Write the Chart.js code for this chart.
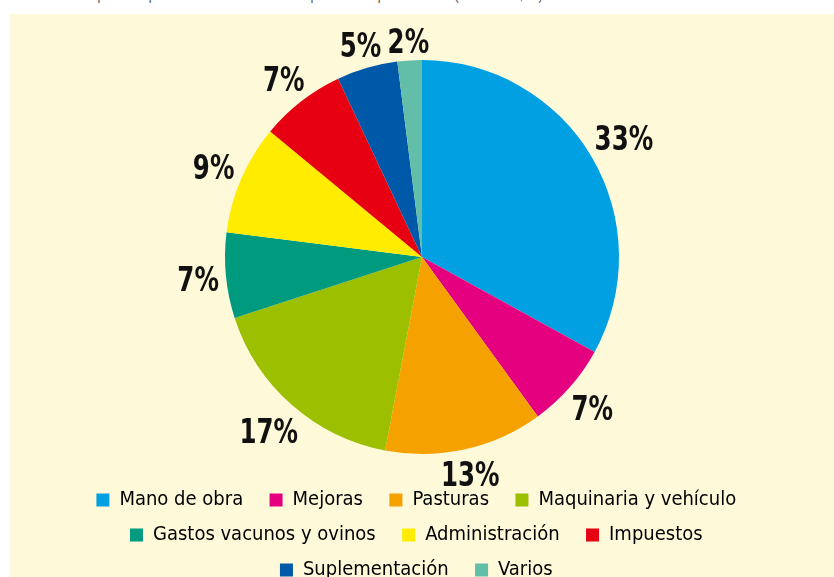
<!DOCTYPE html>
<html>
<head>
<meta charset="utf-8">
<script src="https://cdn.jsdelivr.net/npm/chart.js@4.4.1/dist/chart.umd.min.js"></script>
<style>
  html, body { margin: 0; padding: 0; background: #ffffff; overflow: hidden; width: 834px; height: 577px; }
  #title { position: absolute; left: 10px; top: -11px; font: 13px 'Liberation Sans', Arial, sans-serif; color: #555; white-space: nowrap; line-height: 13px; }
  #panel { position: absolute; left: 10px; top: 14px; width: 824px; height: 576px; background: #fef9d9; }
  #chart-wrap { position: relative; width: 824px; height: 576px; }
</style>
</head>
<body>
<div id="title">Gráfico 3. Composición porcentual de los costos de producción por hectárea (en dólares, %)</div>
<div id="panel">
  <div id="chart-wrap"><canvas id="cost-chart"></canvas></div>
</div>
<script>
// Chart data
const categories = ['Mano de obra', 'Mejoras', 'Pasturas', 'Maquinaria y vehículo',
    'Gastos vacunos y ovinos', 'Administración', 'Impuestos', 'Suplementación', 'Varios'];
const shares = [33, 7, 13, 17, 7, 9, 7, 5, 2];
const sliceColors = ['#00a0e3', '#e4007f', '#f5a100', '#9cbf00', '#009a7f',
    '#ffec00', '#e60012', '#0058a9', '#62bea8'];

const narrowFont = "'Liberation Sans Narrow', 'DejaVu Sans Condensed', Arial, sans-serif";

// Percent labels outside the slices (text squeezed to look condensed)
const outsideLabels = {
    id: 'outsideLabels',
    afterDatasetsDraw(chart) {
        const ctx = chart.ctx;
        const meta = chart.getDatasetMeta(0);
        const squeeze = 0.8;
        const halfH = 12.5;
        ctx.save();
        ctx.font = 'bold 34px ' + narrowFont;
        ctx.fillStyle = '#111111';
        ctx.textAlign = 'center';
        ctx.textBaseline = 'alphabetic';
        meta.data.forEach((arc, i) => {
            const p = arc.getProps(['x', 'y', 'startAngle', 'endAngle', 'outerRadius'], true);
            const text = shares[i] + '%';
            const halfW = ctx.measureText(text).width * squeeze / 2;
            const mid = (p.startAngle + p.endAngle) / 2;
            const c = Math.cos(mid), s = Math.sin(mid);
            const r = p.outerRadius + 6 + Math.abs(c) * halfW + Math.abs(s) * halfH;
            const lx = p.x + c * r;
            const ly = p.y + s * r;
            ctx.save();
            ctx.translate(lx, ly + halfH);
            ctx.scale(squeeze, 1);
            ctx.fillText(text, 0, 0);
            ctx.restore();
        });
        ctx.restore();
    }
};

const ctx = document.getElementById('cost-chart').getContext('2d');
const costChart = new Chart(ctx, {
    type: 'pie',
    data: {
        labels: categories,
        datasets: [{
            data: shares,
            backgroundColor: sliceColors,
            borderWidth: 0,
            radius: 197
        }]
    },
    options: {
        responsive: true,
        maintainAspectRatio: false,
        animation: false,
        layout: {
            padding: { top: 25, left: 47, right: 47, bottom: 0 }
        },
        plugins: {
            tooltip: { enabled: false },
            legend: {
                position: 'bottom',
                align: 'center',
                labels: {
                    boxWidth: 13,
                    boxHeight: 13,
                    padding: 15,
                    color: '#1a1a1a',
                    font: { family: narrowFont, size: 20 },
                    generateLabels(chart) {
                        return categories.map((name, i) => ({
                            text: name + '  ',
                            fillStyle: sliceColors[i],
                            strokeStyle: sliceColors[i],
                            lineWidth: 0,
                            index: i
                        }));
                    }
                }
            }
        }
    },
    plugins: [outsideLabels]
});
</script>
</body>
</html>
